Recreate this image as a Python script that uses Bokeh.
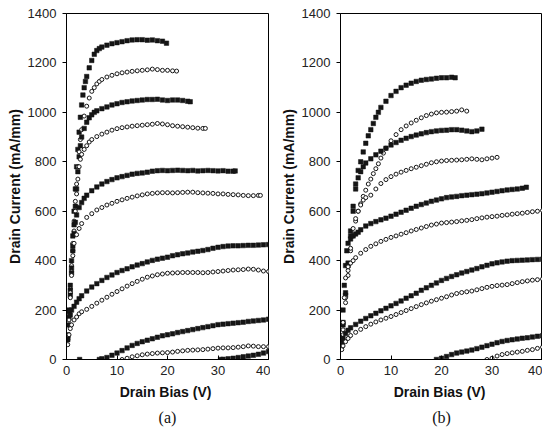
from bokeh.plotting import figure
from bokeh.layouts import row
from bokeh.models import Range1d, FixedTicker, Title
from bokeh.embed import file_html
from bokeh.resources import INLINE

# ---------------- Panel (a) ----------------
a1_v = [0.25, 0.5, 0.75, 1, 1.25, 1.5, 1.75, 2, 2.25, 2.5, 2.75, 3, 3.25, 3.5, 3.75, 4, 4.5, 5, 5.5, 6, 6.5, 7,
        8, 9, 10, 11, 12, 13, 14, 15, 16, 17, 18, 19, 19.8]
a1_i = [100, 200, 300, 400, 500, 600, 690, 780, 850, 920, 980, 1030, 1070, 1100, 1125, 1145, 1180, 1210, 1235, 1250,
        1258, 1264, 1272, 1278, 1282, 1286, 1290, 1293, 1294, 1294, 1292, 1293, 1290, 1288, 1280]

a2_v = [0.25, 0.5, 0.75, 1, 1.25, 1.5, 1.75, 2, 2.25, 2.5, 2.75, 3, 3.5, 4, 4.5, 5, 5.5, 6, 6.5, 7,
        8, 9, 10, 11, 12, 13, 14, 15, 16, 17, 18, 19, 20, 21, 21.8]
a2_i = [95, 190, 285, 380, 470, 560, 640, 710, 780, 840, 890, 930, 985, 1025, 1058, 1085, 1100, 1115, 1125, 1133,
        1143, 1150, 1156, 1160, 1163, 1166, 1168, 1170, 1172, 1175, 1173, 1170, 1170, 1168, 1167]

a3_v = [0.25, 0.5, 0.75, 1, 1.25, 1.5, 1.75, 2, 2.25, 2.5, 2.75, 3, 3.5, 4, 4.5, 5, 5.5, 6,
        7, 8, 9, 10, 11, 12, 13, 14, 15, 16, 17, 18, 19, 20, 21, 22, 23, 24, 24.5]
a3_i = [95, 190, 280, 370, 460, 545, 620, 690, 760, 820, 865, 900, 935, 960, 978, 990, 1000, 1006,
        1015, 1022, 1030, 1035, 1040, 1043, 1046, 1048, 1050, 1052, 1052, 1053, 1050, 1048, 1050, 1050, 1048, 1045, 1043]

a4_v = [0.25, 0.5, 0.75, 1, 1.25, 1.5, 1.75, 2, 2.25, 2.5, 2.75, 3, 3.5, 4, 4.5, 5] + list(range(6, 28)) + [27.5]
a4_i = [90, 180, 270, 355, 440, 520, 600, 670, 730, 780, 810, 830, 850, 865, 880, 890,
        902, 912, 920, 928, 934, 938, 941, 944, 946, 948, 950, 952, 955, 953, 950, 946, 944, 942, 940, 938, 936, 935,
        935]

a5_v = [0.25, 0.5, 0.75, 1, 1.25, 1.5, 1.75, 2, 2.5, 3, 3.5, 4] + list(range(5, 34)) + [33.4]
a5_i = [85, 170, 260, 350, 440, 510, 555, 585, 615, 635, 652, 665,
        683, 698, 710, 720, 728, 735, 740, 745, 750, 753, 755, 758, 762, 764, 765, 764, 765, 766, 765, 764,
        765, 763, 764, 765, 764, 763, 764, 762, 762, 763]

a6_v = [0.25, 0.5, 0.75, 1, 1.25, 1.5, 2, 2.5, 3] + list(range(4, 39)) + [38.4]
a6_i = [80, 160, 250, 340, 420, 470, 505, 530, 550,
        575, 590, 605, 615, 625, 632, 640, 646, 652, 657, 662, 666, 670, 672, 674, 675, 675, 674, 675, 676,
        677, 677, 675, 674, 673, 672, 670, 670, 668, 667, 666, 664, 663, 663, 664, 664]

a7_v = [0.25, 0.5, 0.75, 1, 1.5, 2, 2.5, 3] + list(range(4, 41))
a7_i = [80, 140, 180, 200, 215, 232, 246, 258,
        277, 293, 307, 320, 332, 342, 352, 360, 367, 375, 382, 388, 395, 401, 406, 410, 414, 420, 424, 428,
        431, 435, 438, 441, 445, 450, 454, 457, 459, 460, 460, 461, 462, 462, 463, 464, 465]

a8_v = [0.25, 0.5, 0.75, 1, 1.5, 2, 2.5, 3] + list(range(4, 41))
a8_i = [60, 100, 125, 140, 160, 172, 185, 193,
        203, 215, 228, 240, 252, 264, 275, 286, 297, 307, 316, 325, 333, 338, 343, 346, 349, 350, 351, 352,
        352, 352, 352, 351, 352, 354, 356, 358, 360, 362, 363, 364, 366, 365, 362, 358, 356]

a9_v = [2.6, 6.5] + list(range(7, 41))
a9_i = [0, 0, 3, 8, 17, 26, 36, 47, 57, 65, 72, 78, 84, 90, 96, 100, 104, 109, 113, 117, 121, 125,
        129, 133, 137, 141, 143, 145, 147, 149, 151, 154, 156, 158, 160, 163]

a10_v = [11] + list(range(12, 41))
a10_i = [0, 5, 11, 15, 19, 22, 24, 26, 27, 28, 30, 33, 35, 37, 38, 39, 40, 42, 44, 46, 47,
         47, 48, 50, 52, 55, 54, 52, 52, 52]

a11_v = [30.5] + list(range(31, 41))
a11_i = [0, 1, 3, 5, 8, 11, 14, 17, 21, 26, 32]

# ---------------- Panel (b) ----------------
b1_v = [0.25, 0.5, 1, 1.5, 2, 2.5, 3, 3.5, 4, 4.5, 5, 5.5, 6, 6.5, 7, 7.5, 8] + list(range(9, 23)) + [22.7]
b1_i = [90, 150, 270, 390, 520, 620, 710, 765, 800, 840, 875, 905, 930, 955, 980, 1000, 1020,
        1045, 1068, 1085, 1100, 1110, 1118, 1125, 1130, 1133, 1135, 1138, 1140, 1140, 1142, 1140]

b2_v = [0.25, 0.5, 1, 1.5, 2, 2.5, 3, 3.5, 4, 4.5, 5, 5.5, 6, 6.5, 7, 7.5, 8, 8.5, 9] + list(range(10, 26))
b2_i = [60, 120, 230, 340, 440, 500, 560, 600, 630, 660, 685, 710, 730, 752, 772, 792, 815, 835, 855,
        885, 910, 930, 945, 957, 968, 978, 987, 993, 998, 1000, 1001, 1003, 1005, 1010, 1005]

b3_v = [0.25, 0.5, 1, 1.5, 2, 2.5, 3, 3.5, 4, 4.5, 5] + list(range(6, 29))
b3_i = [70, 140, 260, 380, 500, 600, 690, 735, 760, 780, 795,
        812, 828, 843, 855, 868, 878, 887, 895, 902, 908, 913, 918, 922, 925, 927, 928, 930, 930, 928, 925,
        922, 925, 932]

b4_v = [0.25, 0.5, 1, 1.5, 2, 2.5, 3, 3.5, 4, 4.5, 5] + list(range(6, 32))
b4_i = [50, 100, 250, 360, 450, 530, 570, 600, 625, 645, 655,
        665, 690, 712, 728, 740, 750, 758, 765, 772, 778, 784, 790, 796, 800, 803, 805, 806, 807, 808, 810,
        812, 810, 808, 812, 815, 818]

b5_v = [0.25, 0.5, 0.75, 1, 1.25, 1.5, 2, 2.5, 3, 3.5, 4] + list(range(5, 37)) + [36.8]
b5_i = [80, 200, 300, 380, 440, 470, 488, 500, 508, 515, 525,
        540, 550, 558, 565, 572, 580, 588, 596, 604, 612, 620, 627, 633, 640, 645, 650, 655, 658, 660, 663,
        665, 667, 669, 671, 674, 677, 680, 683, 686, 688, 690, 693, 697]

b6_v = [0.25, 0.5, 0.75, 1, 1.5, 2, 2.5, 3] + list(range(4, 41))
b6_i = [60, 150, 250, 330, 375, 390, 400, 412,
        430, 445, 458, 468, 478, 486, 494, 500, 507, 513, 520, 526, 532, 538, 544, 548, 552, 554, 556, 558,
        561, 563, 566, 570, 573, 576, 578, 580, 583, 585, 588, 590, 592, 595, 598, 600, 603]

b7_v = [0.25, 0.5, 1, 1.5, 2, 3] + list(range(4, 41))
b7_i = [60, 85, 105, 118, 128, 142,
        155, 166, 177, 187, 197, 207, 217, 227, 237, 248, 258, 268, 280, 290, 300, 310, 320, 328, 336, 343,
        350, 356, 362, 368, 375, 381, 387, 391, 395, 398, 400, 401, 402, 403, 404, 405, 406]

b8_v = [0.25, 0.5, 1, 1.5, 2, 3] + list(range(4, 41))
b8_i = [40, 55, 72, 85, 97, 110,
        122, 133, 143, 152, 160, 167, 174, 182, 190, 198, 206, 214, 222, 229, 236, 242, 248, 254, 261, 267,
        271, 274, 277, 282, 287, 292, 296, 299, 301, 303, 307, 311, 315, 318, 321, 323, 326]

b9_v = list(range(19, 41))
b9_i = [0, 5, 12, 20, 26, 30, 34, 38, 44, 50, 56, 62, 68, 73, 77, 80, 83, 86, 88, 91, 94, 96]

b10_v = list(range(29, 41))
b10_i = [0, 5, 14, 20, 24, 27, 30, 33, 37, 40, 45, 50]

x_ticks = [0, 10, 20, 30, 40]
y_ticks = [0, 200, 400, 600, 800, 1000, 1200, 1400]

panel_a = [(a1_v, a1_i, True), (a2_v, a2_i, False), (a3_v, a3_i, True), (a4_v, a4_i, False),
           (a5_v, a5_i, True), (a6_v, a6_i, False), (a7_v, a7_i, True), (a8_v, a8_i, False),
           (a9_v, a9_i, True), (a10_v, a10_i, False), (a11_v, a11_i, True)]
panel_b = [(b1_v, b1_i, True), (b2_v, b2_i, False), (b3_v, b3_i, True), (b4_v, b4_i, False),
           (b5_v, b5_i, True), (b6_v, b6_i, False), (b7_v, b7_i, True), (b8_v, b8_i, False),
           (b9_v, b9_i, True), (b10_v, b10_i, False)]

INK = "#151515"


def make_panel(series, caption, width, left, right):
    p = figure(width=width, height=430, x_range=Range1d(0, 40), y_range=Range1d(0, 1400),
               output_backend="svg", toolbar_location=None,
               min_border_left=left, min_border_right=right, min_border_top=13, min_border_bottom=71)
    p.title.visible = False
    p.xgrid.visible = False
    p.ygrid.visible = False
    p.outline_line_color = "black"
    p.outline_line_width = 1
    p.background_fill_color = "white"
    p.border_fill_color = "white"

    for v, cur, filled in series:
        if filled:
            p.scatter(v, cur, marker="square", size=4.5, fill_color=INK, line_color=INK, line_width=0.5)
        else:
            p.scatter(v, cur, marker="circle", size=4, fill_color="white", line_color=INK, line_width=1)

    p.xaxis.ticker = FixedTicker(ticks=x_ticks)
    p.yaxis.ticker = FixedTicker(ticks=y_ticks)
    for ax in (p.xaxis[0], p.yaxis[0]):
        ax.axis_line_color = "black"
        ax.major_tick_line_color = "black"
        ax.minor_tick_line_color = None
        ax.major_label_text_font = "Liberation Sans"
        ax.major_label_text_font_size = "13px"
        ax.major_label_text_color = "#222222"
        ax.axis_label_text_font = "Liberation Sans"
        ax.axis_label_text_font_style = "bold"
        ax.axis_label_text_font_size = "14px"
        ax.axis_label_text_color = "#111111"
    p.xaxis.major_tick_in = 4
    p.xaxis.major_tick_out = 0
    p.yaxis.major_tick_in = 0
    p.yaxis.major_tick_out = 4
    p.xaxis.major_label_standoff = 6
    p.yaxis.major_label_standoff = 6
    p.xaxis.axis_label = "Drain Bias  (V)"
    p.yaxis.axis_label = "Drain Current (mA/mm)"
    p.xaxis.axis_label_standoff = 6
    p.yaxis.axis_label_standoff = 2

    cap = Title(text=caption, align="center", text_font="Liberation Serif", text_font_size="16px",
                text_font_style="normal", text_color="#111111", standoff=8)
    p.add_layout(cap, "below")
    return p


pa = make_panel(panel_a, "(a)", 270, 66, 2)
pb = make_panel(panel_b, "(b)", 272, 70, 0)

layout = row(pa, pb)
open("out.html", "w").write(file_html(layout, INLINE))
